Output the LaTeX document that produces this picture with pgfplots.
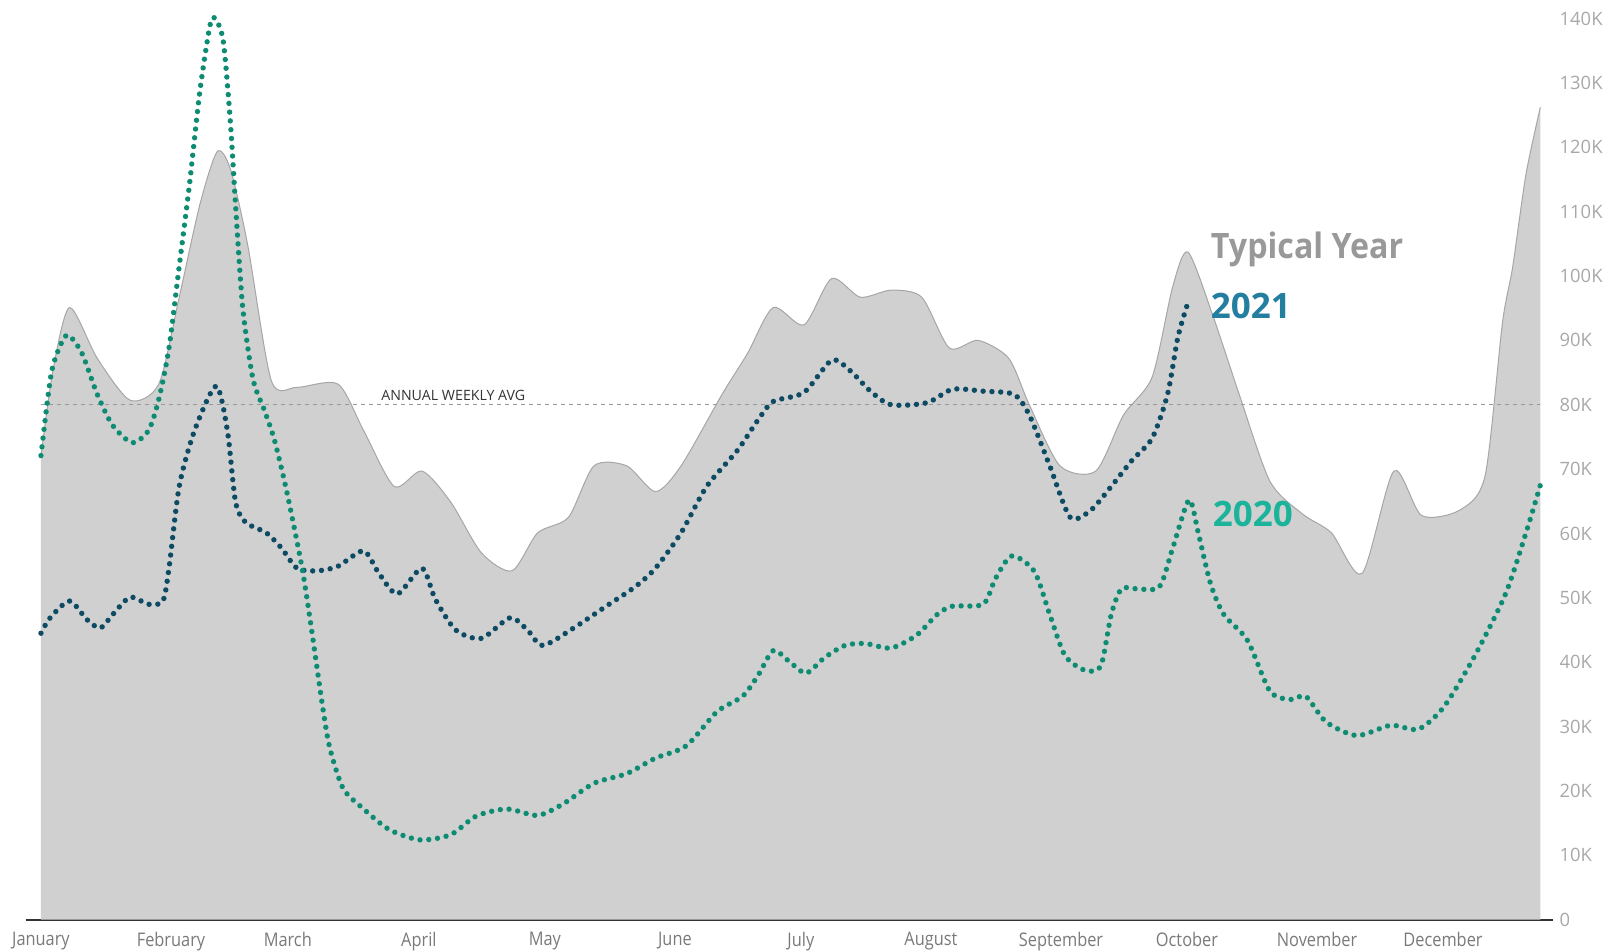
\documentclass[border=0pt]{standalone}
\usepackage{fontspec}
\setmainfont{Open Sans}
\newfontfamily\condfont[FakeStretch=0.87]{Open Sans}
\newfontfamily\titlefont[FakeStretch=0.92]{Open Sans}
\usepackage{pgfplots}
\pgfplotsset{compat=1.18}

\definecolor{areafill}{HTML}{D0D0D0}
\definecolor{areaedge}{HTML}{A6A6A6}
\definecolor{c2020}{HTML}{0E8C73}
\definecolor{c2021}{HTML}{0D4A63}
\definecolor{lab2021}{HTML}{237E9F}
\definecolor{lab2020}{HTML}{1BB39A}
\definecolor{ticktext}{HTML}{A8A8A8}
\definecolor{monthtext}{HTML}{7A7A7A}

% x: position along the year (chart pixels), y: thousands
\pgfplotstableread{
x y
40 72
52 85.6
68 95.1
95 87.2
127 80.7
155 83.2
175 96.7
195 111
212 119.3
225 116.6
242 104.7
265 83.7
290 82.7
330 83.2
355 76
385 67.3
412 69.7
440 64.9
470 57
500 54.2
525 60.1
555 62.5
580 70.5
612 70.5
640 66.5
665 70.5
705 81.6
730 88
755 95.1
785 92.4
812 99.6
840 96.7
870 97.8
900 96.7
927 88.8
955 90
985 87.2
1005 80
1035 70.5
1070 69.7
1097 78.4
1125 84.3
1145 98.3
1160 103.7
1185 93.5
1210 81.6
1240 68.1
1272 63
1300 60.1
1330 53.8
1361 69.7
1388 62.8
1425 63.6
1450 68.9
1467 92.7
1477 101.4
1490 115.8
1504 126.2
}\typical

\pgfplotstableread{
x y
40 44.5
49 46.9
68 49.5
85 46.6
98 45.3
110 47.4
127 50.1
145 49
159 49.5
165 54.6
175 67.3
190 76
211 82.9
222 76
230 64.9
240 61.7
260 60.1
275 57.7
290 54.6
310 54.2
330 54.9
355 57.3
370 53.8
388 50.6
412 54.6
425 49.8
445 45
470 43.7
498 46.9
515 45
530 42.6
560 45.3
590 48.5
620 51.7
640 54.6
665 60.1
690 67.3
720 72.9
740 77.6
755 80.5
785 81.9
812 86.9
830 85.3
850 82.1
870 80
905 80.3
930 82.4
960 82.1
990 81.6
1005 78.4
1025 70.5
1045 62.5
1065 63.6
1085 67.3
1105 71.3
1125 74.8
1140 81.6
1150 90.4
1159 95.4
}\yeartwentyone

\pgfplotstableread{
x y
40 72.1
50 84.8
60 89.6
67 90.8
80 88
95 81.6
110 76.8
129 74.1
145 76
155 80.8
165 88.8
175 101.5
185 114.2
195 128.5
205 138.9
210 140
218 136.5
225 123.8
230 111
237 95.1
247 84
258 79.2
268 74.5
280 66.5
295 54.6
305 44.2
315 33.1
322 26.7
335 20.4
355 17.2
380 14
410 12.4
440 13.2
465 16.1
495 17.2
525 16.2
550 18
580 21.2
612 22.7
640 25.1
670 27
700 32.3
725 34.7
740 37.9
755 41.8
770 40.2
787 38.3
805 40.7
825 42.6
845 42.9
870 42.2
895 44.2
915 47.4
930 48.7
960 49
972 53
988 56.5
1010 54.1
1025 47.4
1040 41
1060 38.7
1075 39.5
1085 47.4
1095 51.4
1110 51.4
1132 51.7
1145 57.7
1161 65.2
1170 60.1
1182 52.2
1195 47.4
1218 43.4
1240 35.5
1260 34.2
1275 34.7
1295 30.7
1325 28.6
1358 30.2
1385 29.6
1410 33.1
1440 41
1470 50.6
1490 60.1
1504 67.5
}\yeartwenty

\tikzset{biglabel/.style={anchor=west, inner sep=0pt, font=\bfseries\fontsize{17.5}{20}\selectfont}}

\begin{document}
\begin{tikzpicture}
\path[use as bounding box] (-12.8pt,-15.65pt) rectangle (790.2pt,459.85pt);
\begin{axis}[
    scale only axis,
    width=763.5pt,
    height=450.6pt,
    xmin=25, xmax=1516,
    ymin=0, ymax=140,
    clip=false,
    axis x line=bottom,
    axis y line=right,
    x axis line style={-, draw=black!80, line width=1pt},
    y axis line style={draw=none},
    major tick length=0pt,
    xtick={40,167,281,409,532,659,782,909,1036,1159,1286,1409},
    xticklabels={January,February,March,April,May,June,July,August,September,October,November,December},
    x tick label style={font=\condfont\fontsize{9.4}{10}\selectfont, text=monthtext, yshift=-2.5pt},
    ytick={0,10,...,140},
    yticklabels={0,10K,20K,30K,40K,50K,60K,70K,80K,90K,100K,110K,120K,130K,140K},
    y tick label style={font=\fontsize{9.2}{10}\selectfont, text=ticktext, anchor=west},
]
\addplot[fill=areafill, draw=none, smooth, tension=0.45] table {\typical} \closedcycle;
\addplot[draw=areaedge, line width=0.5pt, smooth, tension=0.45] table {\typical};

\addplot[draw=black!40, line width=0.5pt, dash pattern=on 2pt off 2pt] coordinates {(40,80) (1504,80)};
\node[anchor=south west, font=\fontsize{7.1}{8}\selectfont, text=black!80, inner sep=1pt] at (axis cs:370,80.2) {ANNUAL WEEKLY AVG};

\addplot[draw=c2021, line width=2.7pt, line cap=round, dash pattern=on 0pt off 4.4pt, smooth, tension=0.45] table {\yeartwentyone};
\addplot[draw=c2020, line width=2.7pt, line cap=round, dash pattern=on 0pt off 4.4pt, smooth, tension=0.45] table {\yeartwenty};

\node[biglabel, font=\titlefont\bfseries\fontsize{17.5}{20}\selectfont, text=black!40] at (axis cs:1182,104.2) {Typical Year};
\node[biglabel, text=lab2021] at (axis cs:1182,95.4) {2021};
\node[biglabel, text=lab2020] at (axis cs:1184,63) {2020};
\end{axis}
\end{tikzpicture}
\end{document}
